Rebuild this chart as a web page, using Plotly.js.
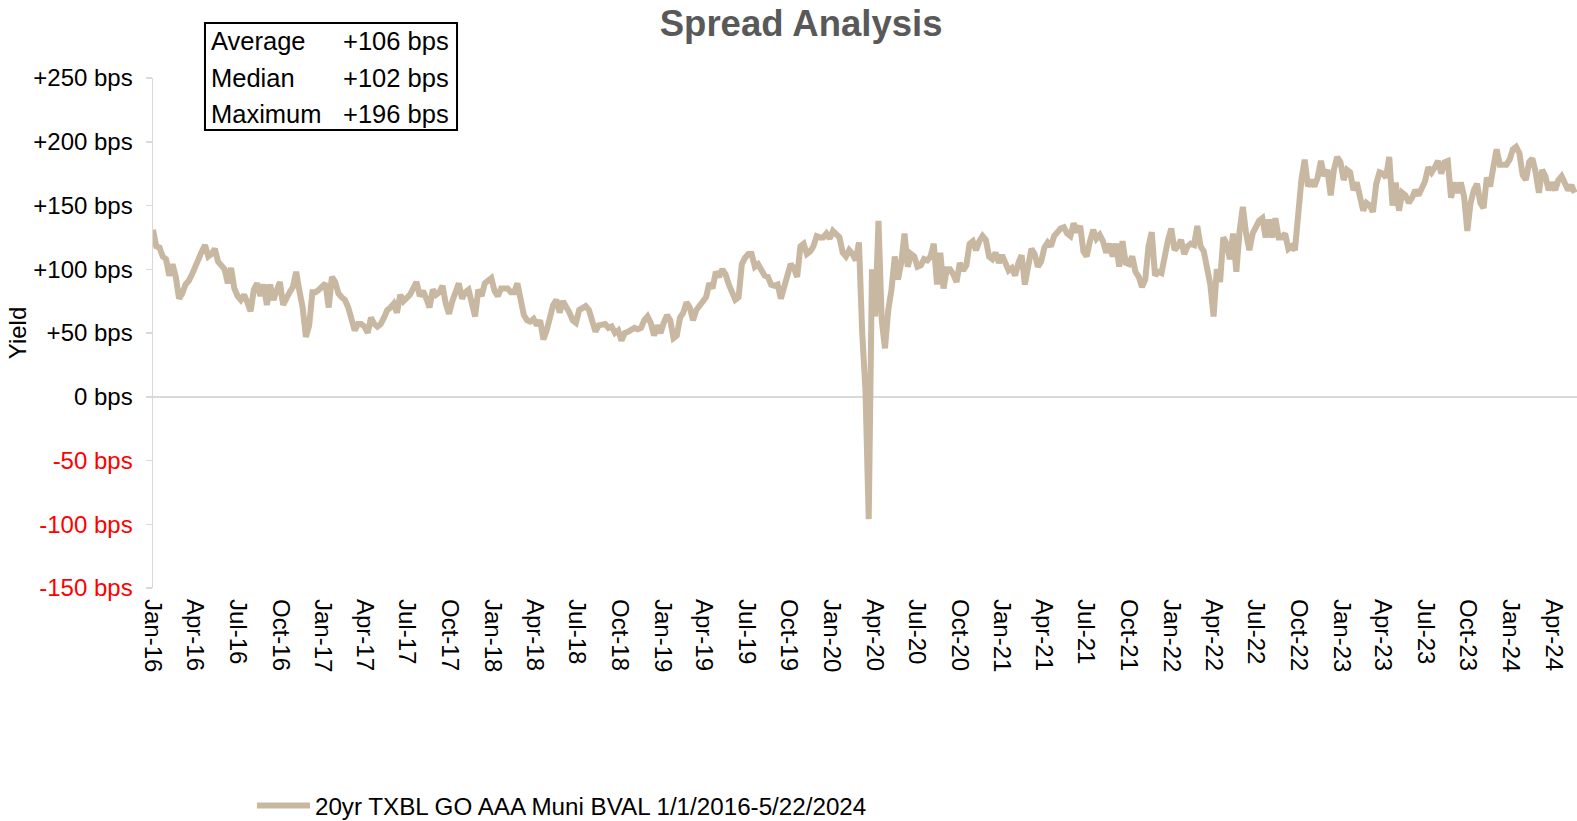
<!DOCTYPE html>
<html>
<head>
<meta charset="utf-8">
<script src="https://cdn.plot.ly/plotly-3.0.1.min.js"></script>
<style>html,body{margin:0;padding:0;background:#fff;}#chart{width:1577px;height:821px;}</style>
</head>
<body>
<div id="chart"></div>
<script>
// Weekly spread readings (bps), starting 2016-01-01, one value every 7 days
const startDate = '2016-01-01';
const stepDays = 7;
const spread2016 = [131,118,117,110,108,95,104,94,77,81,88,91,96,101,108,114,119,110,112,116,106,103,100,89,101,85,79,76,80,74,67,84,89,79,88,72,88,76,84,90,72,78,82,86,98,83,70,47,56,82,82,84,86];
const spread2017 = [89,70,94,90,81,78,76,70,60,52,57,57,55,50,62,57,55,57,62,68,70,73,66,80,75,78,80,85,90,79,83,77,70,84,80,82,87,73,65,75,82,89,77,82,84,75,63,84,79,89,91,93];
const spread2018 = [83,79,85,85,85,82,82,89,76,64,60,59,61,56,60,45,52,65,72,76,66,75,71,66,60,58,68,69,71,68,58,51,56,57,57,54,55,50,52,44,50,51,52,54,53,54,60,63,58,48,56,50];
const spread2019 = [58,64,60,46,48,62,66,74,70,60,68,72,75,78,89,85,98,94,100,96,88,81,76,78,104,109,112,112,102,104,98,95,94,88,87,88,77,86,92,104,101,94,118,120,112,114,118,126,125,125,128,124];
const spread2020 = [130,128,125,113,110,115,112,107,121,50,5,-96,100,63,138,60,38,68,84,110,92,105,128,102,112,110,102,103,108,107,110,120,88,113,85,100,100,96,90,105,99,103,120,122,115,122,126,123,110,108,113,105];
const spread2021 = [111,105,99,101,95,105,111,88,100,116,112,102,106,117,121,118,126,129,132,133,128,126,136,129,134,114,110,122,131,124,127,122,113,120,110,120,102,122,105,104,110,98,94,86,92,118,129,95,98,97,112,123,132];
const spread2022 = [115,118,123,112,118,120,119,134,118,114,98,88,63,100,90,125,120,108,128,98,130,149,128,115,128,133,138,140,125,139,125,140,125,125,128,116,118,115,145,170,186,165,170,165,172,185,173,178,158,178,188,184];
const spread2023 = [170,178,176,162,168,156,146,152,150,145,167,176,175,172,188,150,168,146,160,158,152,156,162,158,165,169,180,176,180,185,175,184,185,156,168,160,168,157,130,152,162,167,152,148,172,165,180,194,182,182,182,186];
const spread2024 = [194,196,191,174,170,184,187,176,160,178,173,162,168,162,170,173,168,162,166,160];
const spreadValues = [].concat(spread2016, spread2017, spread2018, spread2019, spread2020, spread2021, spread2022, spread2023, spread2024);

const seriesName = '20yr TXBL GO AAA Muni BVAL 1/1/2016-5/22/2024';
const xRange = ['2016-01-01', '2024-05-22'];
const yTickVals = [-150, -100, -50, 0, 50, 100, 150, 200, 250];
const yTickText = ['-150 bps', '-100 bps', '-50 bps', '0 bps', '+50 bps', '+100 bps', '+150 bps', '+200 bps', '+250 bps'];
const statLabels = ['Average', 'Median', 'Maximum'];
const statValues = ['+106 bps', '+102 bps', '+196 bps'];

const FONT = 'Liberation Sans, Arial, sans-serif';
const tickText = yTickText.map((t, i) => yTickVals[i] < 0 ? '<span style="color:#ff0000">' + t + '</span>' : t);

const trace = {
  type: 'scatter', mode: 'lines', name: seriesName,
  x0: startDate, dx: stepDays * 86400000,
  y: spreadValues,
  line: {color: '#c8b8a1', width: 6},
  hoverinfo: 'skip'
};

const rowY = [1.0716, 1.0, 0.9294];
const annotations = [];
statLabels.forEach((s, i) => {
  annotations.push({xref: 'paper', yref: 'paper', x: 0.0393, y: rowY[i], xanchor: 'left', yanchor: 'middle', showarrow: false, text: s, font: {family: FONT, size: 25.5, color: '#000'}});
  annotations.push({xref: 'paper', yref: 'paper', x: 0.2093, y: rowY[i], xanchor: 'right', yanchor: 'middle', showarrow: false, text: statValues[i], font: {family: FONT, size: 25.5, color: '#000'}});
});

const layout = {
  width: 1577, height: 821,
  paper_bgcolor: '#fff', plot_bgcolor: '#fff',
  margin: {l: 153, r: 0, t: 78, b: 233, autoexpand: false},
  font: {family: FONT, color: '#000'},
  title: {text: 'Spread Analysis', xref: 'container', yref: 'container', x: 0.508, y: 0.972, xanchor: 'center', yanchor: 'middle', font: {family: FONT, size: 36.5, color: '#595959', weight: 'bold'}},
  showlegend: true,
  legend: {orientation: 'h', x: 0.0695, y: -0.427, xanchor: 'left', yanchor: 'middle', font: {family: FONT, size: 24.2, color: '#000'}, bgcolor: 'rgba(0,0,0,0)', itemwidth: 53},
  xaxis: {
    type: 'date', range: xRange, dtick: 'M3', tick0: '2016-01-01', tickformat: '%b-%y',
    tickangle: 90, ticks: '', showline: false, showgrid: false, zeroline: false,
    tickfont: {family: FONT, size: 24, color: '#000'}, ticklabelstandoff: 10, automargin: false
  },
  xaxis2: {
    type: 'date', range: xRange, dtick: 'M3', tick0: '2016-01-01', overlaying: 'x', anchor: 'free', position: 0.375,
    showticklabels: false, ticks: 'outside', ticklen: 6, tickwidth: 1.5, tickcolor: '#d9d9d9',
    showline: false, showgrid: false, zeroline: false
  },
  yaxis: {
    range: [-150, 250], tickvals: yTickVals, ticktext: tickText,
    ticks: 'outside', ticklen: 6, tickwidth: 1.5, tickcolor: '#d9d9d9',
    showline: true, linecolor: '#d9d9d9', linewidth: 1.5,
    showgrid: false, zeroline: true, zerolinecolor: '#d9d9d9', zerolinewidth: 2,
    tickfont: {family: FONT, size: 24, color: '#000'}, ticklabelstandoff: 8, automargin: false,
    title: {text: 'Yield', standoff: 0, font: {family: FONT, size: 24, color: '#000'}}
  },
  shapes: [{type: 'rect', xref: 'paper', yref: 'paper', x0: 0.0365, x1: 0.2135, y0: 0.898, y1: 1.108, line: {color: '#000', width: 2}, fillcolor: 'rgba(0,0,0,0)'}],
  annotations: annotations
};

Plotly.newPlot('chart', [trace], layout, {displayModeBar: false, staticPlot: true});
</script>
</body>
</html>
